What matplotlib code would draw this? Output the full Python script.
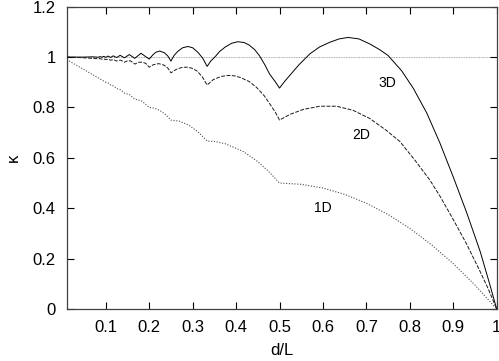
import matplotlib
matplotlib.use("Agg")
import matplotlib.pyplot as plt

# kappa vs d/L
x_3d = [0.010, 0.050, 0.070, 0.0833, 0.087, 0.0909, 0.095, 0.100, 0.105, 0.1111,
        0.117, 0.125, 0.133, 0.1429, 0.154, 0.1667, 0.181, 0.200, 0.208, 0.215,
        0.224, 0.235, 0.243, 0.250, 0.257, 0.266, 0.277, 0.289, 0.300, 0.312,
        0.323, 0.3333, 0.342, 0.351, 0.362, 0.375, 0.390, 0.404, 0.418, 0.430,
        0.443, 0.454, 0.466, 0.477, 0.489, 0.500, 0.512, 0.5235, 0.545, 0.570,
        0.592, 0.616, 0.637, 0.658, 0.683, 0.708, 0.731, 0.750, 0.781, 0.808,
        0.839, 0.869, 0.900, 0.931, 0.962, 0.981, 1.000]
k_3d = [1.000, 1.000, 1.001, 0.9994, 1.002, 0.9993, 1.003, 0.999, 1.004, 0.9986,
        1.005, 0.998, 1.007, 0.997, 1.010, 0.995, 1.015, 0.992, 1.008, 1.019,
        1.024, 1.017, 1.004, 0.984, 1.006, 1.023, 1.037, 1.042, 1.037, 1.019,
        0.996, 0.963, 0.985, 1.000, 1.022, 1.040, 1.055, 1.061, 1.058, 1.048,
        1.029, 1.005, 0.970, 0.933, 0.905, 0.877, 0.904, 0.927, 0.970, 1.013,
        1.040, 1.059, 1.072, 1.078, 1.072, 1.052, 1.029, 1.006, 0.946, 0.876,
        0.778, 0.660, 0.524, 0.382, 0.228, 0.116, 0.000]

x_2d = [0.010, 0.040, 0.060, 0.0769, 0.0833, 0.087, 0.0909, 0.095, 0.100, 0.105,
        0.1111, 0.118, 0.125, 0.134, 0.1429, 0.150, 0.157, 0.1667, 0.175, 0.184,
        0.192, 0.200, 0.210, 0.222, 0.234, 0.243, 0.250, 0.262, 0.275, 0.287,
        0.298, 0.310, 0.322, 0.3333, 0.347, 0.365, 0.381, 0.395, 0.410, 0.430,
        0.447, 0.465, 0.480, 0.490, 0.500, 0.5235, 0.554, 0.593, 0.631, 0.669,
        0.708, 0.746, 0.777, 0.812, 0.846, 0.869, 0.900, 0.931, 0.962, 0.981, 1.000]
k_2d = [1.000, 0.998, 0.996, 0.994, 0.9931, 0.994, 0.9917, 0.993, 0.990, 0.992,
        0.9877, 0.990, 0.9844, 0.988, 0.9796, 0.985, 0.985, 0.9722, 0.979, 0.980,
        0.975, 0.960, 0.970, 0.974, 0.968, 0.956, 0.9375, 0.951, 0.959, 0.960,
        0.956, 0.945, 0.922, 0.889, 0.910, 0.923, 0.927, 0.926, 0.919, 0.903,
        0.880, 0.846, 0.808, 0.782, 0.750, 0.772, 0.792, 0.805, 0.805, 0.789,
        0.756, 0.709, 0.665, 0.590, 0.512, 0.449, 0.355, 0.257, 0.148, 0.078, 0.000]

x_1d = [0.010, 0.050, 0.100, 0.1056, 0.1111, 0.1181, 0.125, 0.1339, 0.1429, 0.1548,
        0.1667, 0.1833, 0.200, 0.2125, 0.225, 0.2375, 0.250, 0.2708, 0.2917, 0.3125,
        0.3333, 0.350, 0.375, 0.4167, 0.450, 0.475, 0.500, 0.550, 0.600, 0.650,
        0.700, 0.750, 0.800, 0.850, 0.900, 0.950, 1.000]
k_1d = [0.990, 0.950, 0.900, 0.897, 0.8889, 0.8853, 0.875, 0.8706, 0.8571, 0.8511,
        0.8333, 0.825, 0.800, 0.797, 0.7875, 0.772, 0.750, 0.745, 0.729, 0.703,
        0.6667, 0.665, 0.656, 0.625, 0.585, 0.546, 0.500, 0.495, 0.480, 0.455,
        0.420, 0.375, 0.320, 0.255, 0.180, 0.095, 0.000]

x_ticks = [0.1, 0.2, 0.3, 0.4, 0.5, 0.6, 0.7, 0.8, 0.9, 1.0]
x_labels = ["0.1", "0.2", "0.3", "0.4", "0.5", "0.6", "0.7", "0.8", "0.9", "1"]
y_ticks = [0, 0.2, 0.4, 0.6, 0.8, 1.0, 1.2]
y_labels = ["0", "0.2", "0.4", "0.6", "0.8", "1", "1.2"]

plt.rcParams['font.family'] = ['Liberation Sans', 'DejaVu Sans']

fig = plt.figure(figsize=(4.99, 3.61), dpi=100)
ax = fig.add_axes([66.7 / 499, 1 - 309 / 361, 430 / 499, 302.3 / 361])

ax.axhline(1.0, color='0.55', lw=0.6, ls=(0, (1, 1)), zorder=1)
ax.plot(x_3d, k_3d, color='black', lw=0.7, zorder=3)
ax.plot(x_2d, k_2d, color='0.1', lw=0.7, ls=(0, (4, 1.5)), zorder=3)
ax.plot(x_1d, k_1d, color='0.3', lw=0.8, ls=(0, (1, 1.5)), zorder=3)

ax.text(0.749, 0.899, "3D", fontsize=10, ha='center', va='center')
ax.text(0.687, 0.689, "2D", fontsize=10, ha='center', va='center')
ax.text(0.600, 0.400, "1D", fontsize=10, ha='center', va='center')

ax.set_xlim(0.01, 1.0)
ax.set_ylim(0, 1.2)
ax.set_xticks(x_ticks)
ax.set_xticklabels(x_labels)
ax.set_yticks(y_ticks)
ax.set_yticklabels(y_labels)
ax.tick_params(direction='in', length=5, width=0.8, top=True, right=True,
               labelsize=12, pad=8, colors='black')
for s in ax.spines.values():
    s.set_linewidth(0.9)
    s.set_color('0.25')

ax.set_xlabel("d/L", fontsize=12, labelpad=6)
ax.set_ylabel("κ", fontsize=12, labelpad=8)

fig.savefig("out.png", dpi=100)
